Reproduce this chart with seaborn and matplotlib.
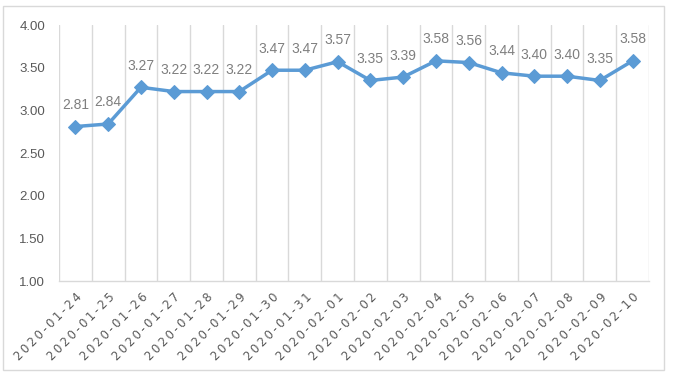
import matplotlib
matplotlib.use("Agg")
import matplotlib.pyplot as plt
import seaborn as sns
import numpy as np
import pandas as pd
from matplotlib.patches import Rectangle

dates = ["2020-01-24", "2020-01-25", "2020-01-26", "2020-01-27", "2020-01-28",
         "2020-01-29", "2020-01-30", "2020-01-31", "2020-02-01", "2020-02-02",
         "2020-02-03", "2020-02-04", "2020-02-05", "2020-02-06", "2020-02-07",
         "2020-02-08", "2020-02-09", "2020-02-10"]
values = [2.81, 2.84, 3.27, 3.22, 3.22, 3.22, 3.47, 3.47, 3.57, 3.35,
          3.39, 3.58, 3.56, 3.44, 3.40, 3.40, 3.35, 3.58]
y_ticks = [1.0, 1.5, 2.0, 2.5, 3.0, 3.5, 4.0]

sns.set_theme(style="white")
plt.rcParams['font.family'] = ['Liberation Sans', 'DejaVu Sans']

df = pd.DataFrame({"pos": np.arange(len(dates)), "value": values})

fig = plt.figure(figsize=(6.73, 3.78), dpi=100)
ax = fig.add_axes([59/673, 1-281/378, 590/673, 256/378])

line_color = "#5B9BD5"
text_color = "#595959"
grid_color = "#D9D9D9"

sns.lineplot(data=df, x="pos", y="value", ax=ax, color=line_color, linewidth=2.5,
             marker="D", markersize=7, markeredgecolor=line_color,
             markerfacecolor=line_color)

for x, v in zip(df["pos"], df["value"]):
    ax.annotate(f"{v:.2f}", (x, v), xytext=(0, 15.5), textcoords="offset points",
                ha="center", va="center", fontsize=10, color="#7F7F7F")

ax.set_xlim(-0.5, len(dates) - 0.5)
ax.set_ylim(1.0, 4.0)
ax.set_yticks(y_ticks)
ax.set_yticklabels([f"{t:.2f}" for t in y_ticks], fontsize=9.5, color=text_color)
ax.set_xticks(np.arange(len(dates)))
spaced = ["\u2009".join(d) for d in dates]
ax.set_xticklabels(spaced, rotation=45, ha="right", rotation_mode="anchor",
                   fontsize=8.5, color=text_color, family=['DejaVu Sans'])
ax.tick_params(axis="x", length=0, pad=7)
ax.tick_params(axis="y", length=0, pad=10)

for b in np.arange(-0.5, len(dates), 1.0):
    ax.axvline(b, color=grid_color, linewidth=1.0, zorder=0)

for s in ["top", "right", "left"]:
    ax.spines[s].set_visible(False)
ax.spines["bottom"].set_color(grid_color)
ax.spines["bottom"].set_linewidth(1.0)
ax.set_xlabel("")
ax.set_ylabel("")

fig.patches.append(Rectangle((3/673, 1-370/378), 661/673, 364/378,
                             transform=fig.transFigure, fill=False,
                             edgecolor=grid_color, linewidth=1.0))

fig.savefig("out.png", dpi=100)
